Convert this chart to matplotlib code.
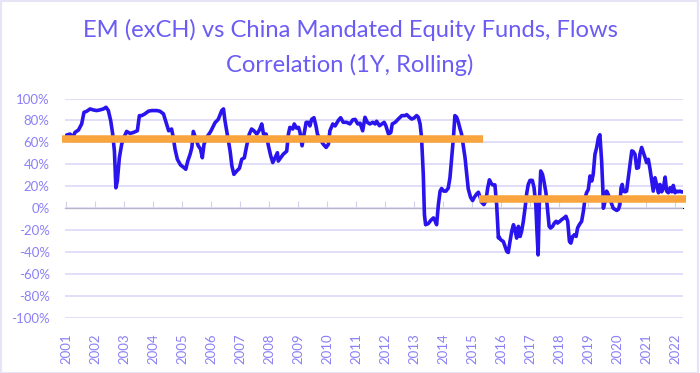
import matplotlib
matplotlib.use("Agg")
import matplotlib.pyplot as plt
from matplotlib.patches import Rectangle
from matplotlib.ticker import FuncFormatter, FixedLocator, NullFormatter

# ---------------- data ----------------
title_line1 = "EM (exCH) vs China Mandated Equity Funds, Flows"
title_line2 = "Correlation (1Y, Rolling)"

year_ticks = list(range(2001, 2023))

dates = [
    2001.02, 2001.14, 2001.23, 2001.31, 2001.43, 2001.54, 2001.62, 2001.71, 2001.83, 2001.94,
    2002.06, 2002.17, 2002.29, 2002.38, 2002.46, 2002.54, 2002.61, 2002.67, 2002.72, 2002.77,
    2002.84, 2002.92, 2003.00, 2003.09, 2003.21, 2003.32, 2003.46, 2003.53, 2003.61, 2003.72,
    2003.84, 2003.95, 2004.13, 2004.24, 2004.36, 2004.45, 2004.54, 2004.64, 2004.70, 2004.76,
    2004.84, 2004.95, 2005.07, 2005.13, 2005.20, 2005.28, 2005.34, 2005.39, 2005.48, 2005.56,
    2005.64, 2005.70, 2005.76, 2005.85, 2005.99,
    2006.14, 2006.25, 2006.37, 2006.43, 2006.48, 2006.56, 2006.66, 2006.72, 2006.79, 2006.89,
    2006.98, 2007.06, 2007.15, 2007.23, 2007.32, 2007.40, 2007.48, 2007.58, 2007.67, 2007.75,
    2007.81, 2007.90, 2007.98, 2008.06, 2008.13, 2008.21, 2008.29, 2008.32, 2008.40, 2008.49,
    2008.61, 2008.67, 2008.72, 2008.82, 2008.87, 2008.95, 2009.02, 2009.07, 2009.14, 2009.21,
    2009.28, 2009.36, 2009.41, 2009.47, 2009.55, 2009.62, 2009.67, 2009.76, 2009.87, 2009.97,
    2010.05, 2010.10, 2010.20, 2010.28, 2010.39, 2010.47, 2010.56, 2010.68, 2010.79, 2010.89,
    2010.97, 2011.06, 2011.14,
    2011.23, 2011.31, 2011.39, 2011.48, 2011.58, 2011.66, 2011.71, 2011.81, 2011.89, 2011.97,
    2012.03, 2012.12, 2012.20, 2012.25, 2012.35, 2012.46, 2012.58, 2012.69, 2012.75, 2012.84,
    2012.92, 2013.00, 2013.09, 2013.15, 2013.21, 2013.26, 2013.32, 2013.36, 2013.40, 2013.49,
    2013.58, 2013.67, 2013.72, 2013.78, 2013.84, 2013.90, 2013.95, 2014.03, 2014.10, 2014.18,
    2014.24, 2014.30, 2014.36, 2014.41, 2014.47, 2014.53, 2014.59, 2014.64, 2014.70, 2014.76,
    2014.82, 2014.87, 2014.95, 2015.02, 2015.08, 2015.16, 2015.22, 2015.28, 2015.33, 2015.41,
    2015.48, 2015.54, 2015.60, 2015.66, 2015.71, 2015.79, 2015.85, 2015.91,
    2015.92, 2015.99, 2016.08, 2016.14, 2016.20, 2016.25, 2016.31, 2016.37, 2016.43, 2016.48,
    2016.54, 2016.60, 2016.66, 2016.71, 2016.77, 2016.83, 2016.89, 2016.94, 2017.00, 2017.08,
    2017.14, 2017.20, 2017.24, 2017.28, 2017.32, 2017.37, 2017.43, 2017.48, 2017.55, 2017.60,
    2017.66, 2017.71, 2017.78, 2017.84, 2017.90, 2017.95, 2018.03, 2018.09, 2018.17, 2018.24,
    2018.30, 2018.36, 2018.41, 2018.47, 2018.53, 2018.59, 2018.64, 2018.70, 2018.78, 2018.84,
    2018.90, 2018.95, 2019.01, 2019.07,
    2019.13, 2019.18, 2019.24, 2019.30, 2019.36, 2019.41, 2019.47, 2019.51, 2019.53, 2019.59,
    2019.64, 2019.70, 2019.76, 2019.82, 2019.87, 2019.93, 2019.99, 2020.05, 2020.10, 2020.14,
    2020.18, 2020.22, 2020.28, 2020.33, 2020.39, 2020.45, 2020.51, 2020.56, 2020.62, 2020.68,
    2020.74, 2020.79, 2020.85, 2020.91, 2020.97, 2021.02, 2021.08, 2021.14, 2021.20, 2021.25,
    2021.31, 2021.37, 2021.43, 2021.48, 2021.54, 2021.60, 2021.66, 2021.71, 2021.77, 2021.83,
    2021.89, 2021.94, 2022.00, 2022.06, 2022.12, 2022.17, 2022.23, 2022.29,
]

correlation = [
    66.7, 67.6, 64.5, 69.1, 71.3, 76.8, 87.4, 88.3, 90.5, 89.6,
    89.0, 89.6, 90.5, 92.0, 89.0, 80.0, 67.6, 52.0, 18.6, 24.8,
    46.0, 58.4, 64.5, 70.0, 68.2, 69.0, 70.6, 84.4, 84.4, 86.0,
    88.4, 89.0, 89.0, 88.4, 86.0, 78.3, 70.6, 72.2, 64.5, 53.8,
    44.6, 39.4, 37.0, 35.5, 43.1, 49.2, 55.4, 70.0, 63.0, 56.9,
    53.8, 46.0, 58.4, 64.5, 70.0,
    78.0, 81.0, 89.0, 90.5, 80.0, 67.6, 52.0, 38.5, 30.9, 34.0,
    36.4, 44.6, 46.0, 56.9, 67.6, 72.2, 70.6, 67.6, 71.3, 76.8,
    67.6, 67.6, 56.9, 47.7, 41.6, 46.0, 50.6, 43.0, 46.0, 49.2,
    52.0, 67.6, 73.7, 72.2, 76.8, 73.0, 73.7, 69.0, 56.9, 67.6,
    78.3, 78.3, 75.0, 81.0, 82.5, 75.0, 67.6, 62.7, 58.4, 55.4,
    58.4, 70.6, 76.8, 75.0, 80.0, 82.5, 78.3, 78.3, 76.8, 80.6,
    81.0, 76.8, 77.5,
    70.6, 82.9, 78.3, 76.8, 78.3, 76.8, 79.3, 75.2, 76.8, 78.3,
    75.2, 67.6, 69.0, 76.8, 78.3, 81.3, 84.4, 84.4, 85.3, 82.9,
    81.3, 82.2, 84.4, 82.9, 76.8, 64.5, 30.9, -6.0, -15.0, -14.0,
    -11.0, -8.8, -11.0, -15.0, 3.3, 15.6, 18.0, 15.6, 15.6, 18.3,
    27.8, 46.0, 64.5, 84.4, 83.0, 78.3, 72.2, 67.6, 56.9, 46.0,
    30.9, 17.7, 10.0, 7.0, 10.0, 13.0, 14.6, 10.0, 5.5, 3.3,
    7.0, 18.3, 25.9, 22.8, 21.3, 21.3, 3.3, -27.0,
    -25.7, -28.7, -30.3, -34.9, -39.4, -40.3, -30.3, -21.0, -15.0, -19.6,
    -27.2, -16.5, -25.7, -21.0, -11.9, 0.3, 14.1, 21.7, 25.4, 25.4,
    18.7, 3.3, -21.0, -42.5, 3.3, 34.0, 31.0, 24.8, 14.1, 0.3,
    -16.5, -18.0, -16.5, -13.5, -11.9, -13.5, -11.9, -10.4, -8.9, -7.3,
    -11.9, -30.3, -31.8, -25.7, -24.2, -25.7, -18.0, -15.0, -11.9, -2.9,
    9.4, 14.1, 17.1, 29.4,
    24.8, 31.0, 49.2, 55.4, 64.5, 67.0, 43.0, 18.7, 0.0, 6.4,
    15.6, 12.5, 8.0, 3.3, 0.0, -1.0, -2.0, -1.0, 3.3, 18.7,
    21.7, 15.6, 15.0, 15.6, 27.8, 40.0, 52.3, 51.7, 49.2, 36.4,
    37.0, 49.2, 55.4, 50.8, 46.0, 41.6, 44.6, 35.5, 24.8, 15.6,
    27.8, 20.8, 14.1, 21.7, 15.0, 18.7, 28.4, 15.6, 14.1, 18.7,
    15.0, 20.8, 14.1, 15.6, 15.0, 15.6, 14.8, 15.0,
]

# average levels (orange bars): [start, end, level %]
avg1_span = [2000.86, 2015.38]
avg1_level = 63.0
avg2_span = [2015.24, 2022.38]
avg2_level = 8.3

# ---------------- style ----------------
W, H = 700, 373
fig = plt.figure(figsize=(W / 100, H / 100), dpi=100)
fig.patch.set_facecolor("white")

FONT = ["Lato", "DejaVu Sans"]
title_color = "#6A5CF4"
label_color = "#8A80F6"
grid_color = "#DCD9F6"
line_color = "#2A14EE"
orange = "#F9A43C"

left_px, right_px = 65, 683
top_px, bottom_px = 98.5, 318
ax = fig.add_axes([left_px / W, 1 - bottom_px / H,
                   (right_px - left_px) / W, (bottom_px - top_px) / H])
ax.set_facecolor("white")

x0 = 2001 + (65 - 66) / 29.0
x1 = 2001 + (683 - 66) / 29.0
ax.set_xlim(x0, x1)
ax.set_ylim(-100, 100)

for s in ax.spines.values():
    s.set_visible(False)

yt = list(range(-100, 101, 20))
ax.set_yticks(yt)
ax.yaxis.set_major_formatter(FuncFormatter(lambda v, p: f"{int(v)}%"))
ax.tick_params(axis="y", length=0, pad=11, labelsize=9.5, labelcolor=label_color)
for v in yt:
    ax.axhline(v, color=grid_color, lw=1.2, zorder=1)

ax.set_xticks(year_ticks)
ax.set_xticklabels([str(y) for y in year_ticks], rotation=90)
ax.tick_params(axis="x", length=0, pad=11, labelsize=9.5, labelcolor=label_color)

# tick marks on zero line
sec = ax.secondary_xaxis(0.5)
sec.xaxis.set_major_locator(FixedLocator(year_ticks))
sec.xaxis.set_major_formatter(NullFormatter())
sec.tick_params(axis="x", direction="out", length=5, width=0.8, color="#D2D0E6")
sec.spines["bottom"].set_color("#D2D0E6")
sec.spines["bottom"].set_linewidth(0.8)

for lab in ax.get_xticklabels() + ax.get_yticklabels():
    lab.set_fontfamily(FONT)
    lab.set_fontweight("normal")

ax.plot(dates, correlation, color=line_color, lw=2.6, solid_joinstyle="round",
        solid_capstyle="round", zorder=3)

ax.plot(avg1_span, [avg1_level, avg1_level], color=orange, lw=5.4,
        solid_capstyle="butt", zorder=4, clip_on=False)
ax.plot(avg2_span, [avg2_level, avg2_level], color=orange, lw=5.4,
        solid_capstyle="butt", zorder=4, clip_on=False)

# title (fit first line to the reference width)
t1 = fig.text(0.5, 1 - 37 / H, title_line1, ha="center", va="baseline",
              fontsize=15, color=title_color, family=FONT, fontweight="normal")
t2 = fig.text(0.5, 1 - 72 / H, title_line2, ha="center", va="baseline",
              fontsize=15, color=title_color, family=FONT, fontweight="normal")
r = fig.canvas.get_renderer()
w1 = t1.get_window_extent(renderer=r).width
fs = 15 * 536.0 / w1
t1.set_fontsize(fs)
t2.set_fontsize(fs)

# light frame around the image
fig.patches.append(Rectangle((0.5 / W, 0.5 / H), (W - 3) / W, (H - 1.5) / H,
                             transform=fig.transFigure, fill=False,
                             edgecolor="#E6E4F6", lw=1.5))

fig.savefig("out.png", dpi=100, facecolor="white")
